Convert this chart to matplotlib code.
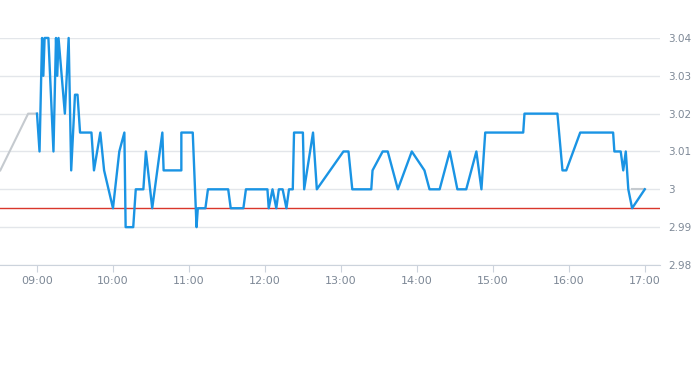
import numpy as np
import matplotlib
matplotlib.use("Agg")
import matplotlib.pyplot as plt

# intraday price (blue)
times = ["09:00", "09:02", "09:04", "09:05", "09:06", "09:09", "09:13", "09:15", "09:16", "09:17",
         "09:22", "09:25", "09:27", "09:30", "09:32", "09:34", "09:43", "09:45", "09:50", "09:53",
         "10:00", "10:05", "10:09", "10:10", "10:16", "10:18", "10:24", "10:26", "10:31", "10:39",
         "10:40", "10:54", "10:54", "11:03", "11:06", "11:07", "11:13", "11:15", "11:31", "11:33",
         "11:43", "11:45", "12:02", "12:03", "12:06", "12:09", "12:11", "12:14", "12:17", "12:19",
         "12:22", "12:23", "12:30", "12:31", "12:38", "12:41", "13:02", "13:06", "13:09", "13:24",
         "13:25", "13:33", "13:37", "13:45", "13:56", "14:06", "14:10", "14:18", "14:26", "14:32",
         "14:39", "14:47", "14:51", "14:54", "15:24", "15:25", "15:51", "15:55", "15:58", "16:09",
         "16:35", "16:36", "16:41", "16:43", "16:45", "16:47", "16:50", "17:00"]
prices = [3.02, 3.01, 3.04, 3.03, 3.04, 3.04, 3.01, 3.04, 3.03, 3.04,
          3.02, 3.04, 3.005, 3.025, 3.025, 3.015, 3.015, 3.005, 3.015, 3.005,
          2.995, 3.01, 3.015, 2.99, 2.99, 3.0, 3.0, 3.01, 2.995, 3.015,
          3.005, 3.005, 3.015, 3.015, 2.99, 2.995, 2.995, 3.0, 3.0, 2.995,
          2.995, 3.0, 3.0, 2.995, 3.0, 2.995, 3.0, 3.0, 2.995, 3.0,
          3.0, 3.015, 3.015, 3.0, 3.015, 3.0, 3.01, 3.01, 3.0, 3.0,
          3.005, 3.01, 3.01, 3.0, 3.01, 3.005, 3.0, 3.0, 3.01, 3.0,
          3.0, 3.01, 3.0, 3.015, 3.015, 3.02, 3.02, 3.005, 3.005, 3.015,
          3.015, 3.01, 3.01, 3.005, 3.01, 3.0, 2.995, 3.0]

# pre / post session (grey)
pre_times = ["08:31", "08:53", "09:00"]
pre_prices = [3.005, 3.02, 3.02]
post_times = ["16:50", "17:00"]
post_prices = [3.0, 3.0]

prev_close = 2.995

xtick_labels = ["09:00", "10:00", "11:00", "12:00", "13:00", "14:00", "15:00", "16:00", "17:00"]
yticks = [2.98, 2.99, 3.0, 3.01, 3.02, 3.03, 3.04]
ytick_labels = ["2.98", "2.99", "3", "3.01", "3.02", "3.03", "3.04"]


def hrs(ts):
    return np.array([int(t[:2]) + int(t[3:]) / 60 for t in ts])


fig = plt.figure(figsize=(6.93, 3.65), dpi=100)
ax = fig.add_axes([0, 0.274, 0.952, 0.622])

ax.plot(hrs(pre_times), pre_prices, color="#c5cacf", lw=1.5)
ax.plot(hrs(post_times), post_prices, color="#c5cacf", lw=1.5)
ax.axhline(prev_close, color="#d9362b", lw=1)
ax.plot(hrs(times), prices, color="#1a94e4", lw=1.7, clip_on=False, zorder=3)

ax.set_xlim(8.513, 17.197)
ax.set_ylim(2.98, 3.04)
ax.set_xticks(hrs(xtick_labels))
ax.set_xticklabels(xtick_labels)
ax.set_yticks(yticks)
ax.set_yticklabels(ytick_labels)
ax.yaxis.tick_right()
ax.grid(axis="y", color="#e3e6ea", lw=1)
ax.set_axisbelow(True)
for s in ["top", "left", "right"]:
    ax.spines[s].set_visible(False)
ax.spines["bottom"].set_color("#ccd3dc")
ax.tick_params(axis="x", length=5, color="#ccd3dc", labelsize=8, labelcolor="#7d8896", pad=3)
ax.tick_params(axis="y", length=0, labelsize=7.5, labelcolor="#7d8896", pad=6)

fig.savefig("out.png", dpi=100)
